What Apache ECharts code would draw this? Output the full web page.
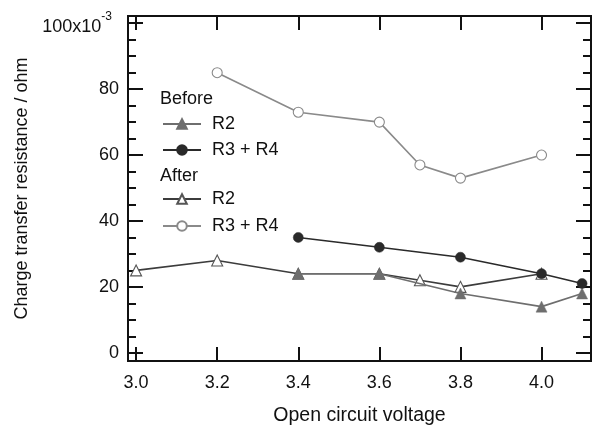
<!DOCTYPE html>
<html>
<head>
<meta charset="utf-8">
<script src="https://cdn.jsdelivr.net/npm/echarts@6/dist/echarts.min.js"></script>
<style>
  html, body { margin: 0; padding: 0; background: #fff; }
  #chart { width: 597px; height: 426px; }
</style>
</head>
<body>
<div id="chart"></div>
<script>
// Open circuit voltage (x) and charge transfer resistance (×10^-3 ohm)
const voltsBeforeR2 = [3.4, 3.6, 3.8, 4.0, 4.1];
const beforeR2 = [24, 24, 18, 14, 18];
const voltsBeforeR34 = [3.4, 3.6, 3.8, 4.0, 4.1];
const beforeR34 = [35, 32, 29, 24, 21];
const voltsAfterR2 = [3.0, 3.2, 3.4, 3.6, 3.7, 3.8, 4.0];
const afterR2 = [25, 28, 24, 24, 22, 20, 24];
const voltsAfterR34 = [3.2, 3.4, 3.6, 3.7, 3.8, 4.0];
const afterR34 = [85, 73, 70, 57, 53, 60];

const xTicks = [3.0, 3.2, 3.4, 3.6, 3.8, 4.0];
const yTicks = [0, 20, 40, 60, 80, 100];
const yMinorTicks = [5, 10, 15, 25, 30, 35, 45, 50, 55, 65, 70, 75, 85, 90, 95];

const FONT = '"Liberation Sans", Arial, Helvetica, sans-serif';
const INK = '#111';

const pairs = (xs, ys) => xs.map((x, i) => [x, ys[i]]);

const X_MIN = 2.98, X_MAX = 4.122;
const Y_MIN = -2.5, Y_MAX = 102.2;

function xAxisDef(pos, withLabels) {
  return {
    type: 'value', position: pos, min: X_MIN, max: X_MAX,
    axisLine: { show: true, onZero: false, lineStyle: { color: INK, width: 2 } },
    axisTick: { show: true, inside: true, length: 14, customValues: xTicks, lineStyle: { color: INK, width: 2 } },
    axisLabel: withLabels ? {
      show: true, customValues: xTicks, margin: 13,
      formatter: v => v.toFixed(1), color: INK, fontSize: 18, fontFamily: FONT
    } : { show: false },
    splitLine: { show: false },
    name: withLabels ? 'Open circuit voltage' : '',
    nameLocation: 'middle', nameGap: 45,
    nameTextStyle: { color: INK, fontSize: 19.5, fontFamily: FONT }
  };
}

function yAxisDef(pos, ticks, len, withLabels) {
  return {
    type: 'value', position: pos, min: Y_MIN, max: Y_MAX,
    axisLine: { show: true, onZero: false, lineStyle: { color: INK, width: 2 } },
    axisTick: { show: true, inside: true, length: len, customValues: ticks, lineStyle: { color: INK, width: 2 } },
    axisLabel: withLabels ? {
      show: true, customValues: ticks, margin: 9, color: INK, fontSize: 18, fontFamily: FONT,
      formatter: v => v === 100 ? '{m|100x10}{s|-3}' : String(v),
      rich: {
        m: { fontSize: 18, fontFamily: FONT, color: INK, padding: [8, 0, 0, 0] },
        s: { fontSize: 12, fontFamily: FONT, color: INK, verticalAlign: 'top', padding: [0, 7, 0, 0] }
      }
    } : { show: false },
    splitLine: { show: false },
    name: withLabels ? 'Charge transfer resistance / ohm' : '',
    nameLocation: 'middle', nameGap: 90,
    nameTextStyle: { color: INK, fontSize: 18, fontFamily: FONT }
  };
}

const chart = echarts.init(document.getElementById('chart'), null, { renderer: 'canvas' });

const legendBase = {
  orient: 'vertical', left: 162, padding: 0, itemWidth: 38, itemHeight: 12, itemGap: 8,
  selectedMode: false,
  formatter: n => n.replace(/^(Before|After) /, ''),
  textStyle: { color: INK, fontSize: 18, fontFamily: FONT, padding: [0, 0, 0, 6] }
};

chart.setOption({
  animation: false,
  backgroundColor: '#fff',
  grid: { left: 128, right: 6, top: 16, bottom: 65, containLabel: false, outerBoundsMode: 'none' },
  xAxis: [xAxisDef('bottom', true), xAxisDef('top', false)],
  yAxis: [
    yAxisDef('left', yTicks, 15, true),
    yAxisDef('left', yMinorTicks, 8, false),
    yAxisDef('right', yTicks, 15, false),
    yAxisDef('right', yMinorTicks, 8, false)
  ],
  legend: [
    Object.assign({}, legendBase, { top: 115, data: ['Before R2', 'Before R3 + R4'] }),
    Object.assign({}, legendBase, { top: 190, itemGap: 9, data: ['After R2', 'After R3 + R4'] })
  ],
  graphic: [
    { type: 'text', left: 160, top: 90, style: { text: 'Before', fill: INK, font: '18px ' + FONT } },
    { type: 'text', left: 160, top: 167, style: { text: 'After', fill: INK, font: '18px ' + FONT } }
  ],
  series: [
    {
      name: 'After R2', type: 'line', data: pairs(voltsAfterR2, afterR2),
      symbol: 'triangle', symbolSize: 11, z: 2,
      lineStyle: { color: '#3c3c3c', width: 1.6 },
      itemStyle: { color: '#fff', borderColor: '#555', borderWidth: 1.1 }
    },
    {
      name: 'After R3 + R4', type: 'line', data: pairs(voltsAfterR34, afterR34),
      symbol: 'circle', symbolSize: 10, z: 2,
      lineStyle: { color: '#8a8a8a', width: 1.6 },
      itemStyle: { color: '#fff', borderColor: '#8a8a8a', borderWidth: 1.1 }
    },
    {
      name: 'Before R2', type: 'line', data: pairs(voltsBeforeR2, beforeR2),
      symbol: 'triangle', symbolSize: 11, z: 3,
      lineStyle: { color: '#6e6e6e', width: 1.6 },
      itemStyle: { color: '#6e6e6e', borderColor: '#6e6e6e', borderWidth: 0.5 }
    },
    {
      name: 'Before R3 + R4', type: 'line', data: pairs(voltsBeforeR34, beforeR34),
      symbol: 'circle', symbolSize: 10, z: 3,
      lineStyle: { color: '#2a2a2a', width: 1.6 },
      itemStyle: { color: '#2a2a2a', borderColor: '#2a2a2a', borderWidth: 0.5 }
    }
  ]
});
</script>
</body>
</html>
